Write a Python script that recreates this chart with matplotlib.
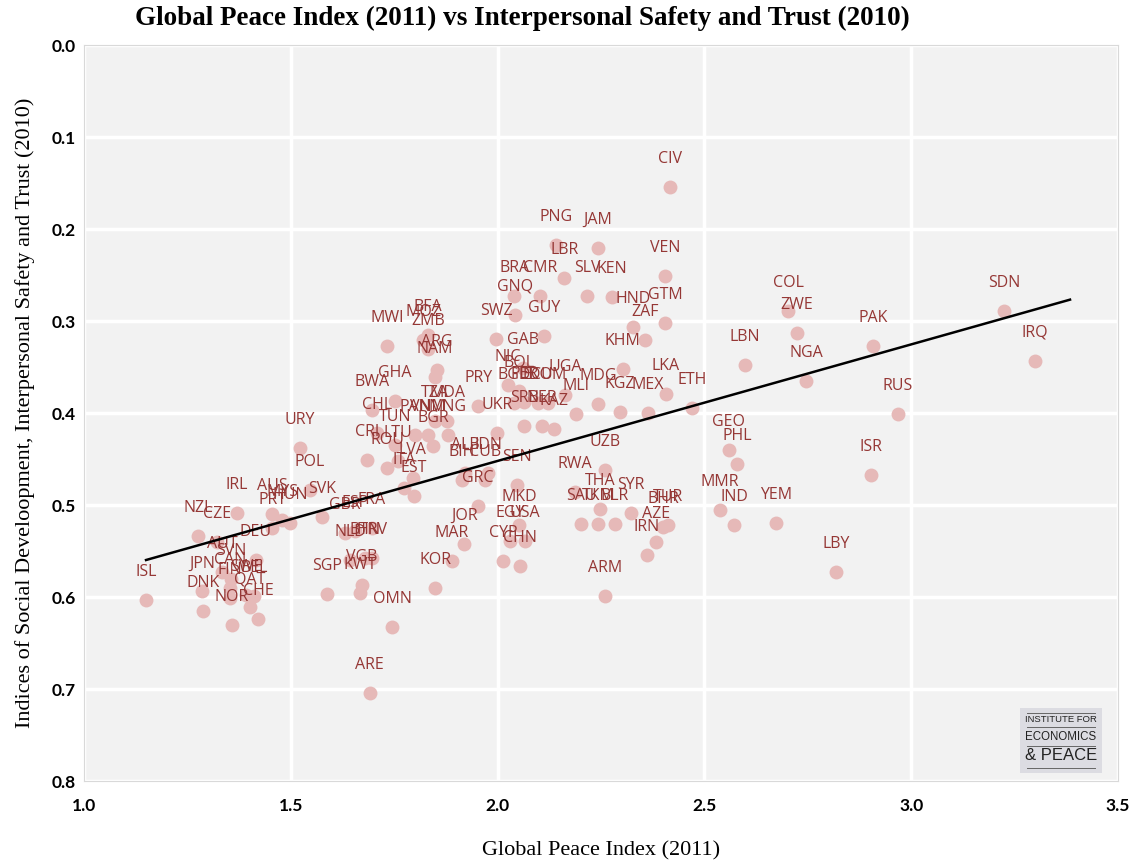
import numpy as np
import matplotlib
matplotlib.use("Agg")
import matplotlib.pyplot as plt
from matplotlib.patches import Rectangle

# ---- data ----
codes = [
    "ISL", "NZL", "CZE", "IRL", "AUS", "MYS", "PRT", "HUN", "DEU", "AUT",
    "SVN", "CAN", "JPN", "FIN", "SWE", "BEL", "QAT", "DNK", "CHE", "NOR",
    "URY", "POL", "SVK", "GBR", "ESP", "FRA", "NLD", "BTN", "HRV", "VGB",
    "KWT", "SGP", "OMN", "ARE", "KOR", "MAR", "JOR", "GRC", "CRI", "LTU",
    "ROU", "LVA", "ITA", "EST", "ALB", "IDN", "BIH", "CUB", "CHL", "TUN",
    "BGR", "PAN", "VNM", "MNG", "TZA", "MDA", "BWA", "GHA", "PRY", "UKR",
    "MWI", "BFA", "MOZ", "ZMB", "ARG", "NAM", "SWZ", "GUY", "GNQ", "BRA",
    "CMR", "PNG", "LBR", "JAM", "SLV", "KEN", "CIV", "VEN", "HND", "GTM",
    "ZAF", "GAB", "KHM", "NIC", "BOL", "BGD", "PER", "ECU", "DOM", "UGA",
    "MLI", "MDG", "KGZ", "MEX", "LKA", "ETH", "SRB", "NER", "KAZ", "SEN",
    "MKD", "EGY", "USA", "CYP", "CHN", "UZB", "RWA", "THA", "SYR", "SAU",
    "TKM", "BLR", "BHR", "TUR", "AZE", "IRN", "ARM", "GEO", "PHL", "MMR",
    "IND", "YEM", "LBY", "ISR", "RUS", "NGA", "LBN", "PAK", "COL", "ZWE",
    "SDN", "IRQ",
]

gpi_2011 = [
    1.150, 1.276, 1.322, 1.370, 1.455, 1.479, 1.455, 1.498, 1.416, 1.334,
    1.355, 1.353, 1.285, 1.353, 1.392, 1.411, 1.401, 1.288, 1.421, 1.358,
    1.522, 1.546, 1.575, 1.631, 1.655, 1.696, 1.643, 1.679, 1.696, 1.672,
    1.667, 1.588, 1.745, 1.691, 1.849, 1.890, 1.919, 1.953, 1.684, 1.759,
    1.733, 1.795, 1.774, 1.798, 1.921, 1.977, 1.914, 1.970, 1.708, 1.752,
    1.844, 1.800, 1.832, 1.880, 1.849, 1.878, 1.696, 1.752, 1.953, 1.999,
    1.733, 1.832, 1.820, 1.832, 1.853, 1.849, 1.996, 2.112, 2.042, 2.040,
    2.103, 2.141, 2.161, 2.243, 2.216, 2.277, 2.417, 2.405, 2.327, 2.405,
    2.356, 2.061, 2.303, 2.025, 2.052, 2.040, 2.064, 2.098, 2.122, 2.163,
    2.190, 2.243, 2.296, 2.364, 2.407, 2.470, 2.064, 2.107, 2.136, 2.047,
    2.052, 2.030, 2.066, 2.013, 2.054, 2.260, 2.187, 2.248, 2.323, 2.202,
    2.243, 2.284, 2.400, 2.412, 2.383, 2.361, 2.260, 2.559, 2.579, 2.538,
    2.572, 2.673, 2.818, 2.903, 2.968, 2.746, 2.598, 2.908, 2.702, 2.724,
    3.224, 3.299,
]

safety_2010 = [
    0.603, 0.534, 0.540, 0.509, 0.510, 0.516, 0.525, 0.520, 0.560, 0.573,
    0.580, 0.590, 0.594, 0.601, 0.598, 0.599, 0.611, 0.615, 0.624, 0.630,
    0.438, 0.484, 0.513, 0.530, 0.528, 0.525, 0.560, 0.558, 0.558, 0.587,
    0.596, 0.597, 0.633, 0.704, 0.590, 0.561, 0.542, 0.501, 0.451, 0.452,
    0.460, 0.471, 0.482, 0.490, 0.465, 0.465, 0.473, 0.473, 0.422, 0.435,
    0.436, 0.424, 0.424, 0.424, 0.409, 0.409, 0.397, 0.387, 0.392, 0.422,
    0.327, 0.315, 0.321, 0.330, 0.353, 0.361, 0.320, 0.316, 0.293, 0.273,
    0.273, 0.217, 0.253, 0.221, 0.273, 0.274, 0.154, 0.251, 0.307, 0.302,
    0.321, 0.351, 0.352, 0.370, 0.376, 0.389, 0.388, 0.389, 0.389, 0.380,
    0.401, 0.390, 0.399, 0.400, 0.379, 0.395, 0.414, 0.414, 0.417, 0.478,
    0.522, 0.539, 0.539, 0.561, 0.566, 0.462, 0.486, 0.504, 0.509, 0.521,
    0.521, 0.521, 0.524, 0.522, 0.540, 0.554, 0.599, 0.440, 0.455, 0.505,
    0.522, 0.520, 0.573, 0.467, 0.401, 0.365, 0.348, 0.327, 0.289, 0.313,
    0.289, 0.343,
]

x_ticks = [1.0, 1.5, 2.0, 2.5, 3.0, 3.5]
y_ticks = [0.0, 0.1, 0.2, 0.3, 0.4, 0.5, 0.6, 0.7, 0.8]

# ---- figure ----
fig = plt.figure(figsize=(11.38, 8.6), dpi=100)
ax = fig.add_axes([84 / 1138, 1 - 781 / 860, 1034 / 1138, 736 / 860])
ax.set_facecolor("#F2F2F2")

ax.set_xlim(1.0, 3.5)
ax.set_ylim(0.8, 0.0)
ax.set_xticks(x_ticks)
ax.set_yticks(y_ticks)
ax.grid(True, color="white", linewidth=2.5)
ax.set_axisbelow(True)
for s in ax.spines.values():
    s.set_color("#D9D9D9")
ax.tick_params(axis="x", length=0, pad=12)
ax.tick_params(axis="y", length=0, pad=6)
for lab in ax.get_xticklabels() + ax.get_yticklabels():
    lab.set_fontfamily("Lato")
    lab.set_fontweight("bold")
    lab.set_fontsize(12.5)

x = np.array(gpi_2011)
y = np.array(safety_2010)
ax.scatter(x, y, s=100, color="#E6B9B8", linewidths=0, zorder=3)

for c, xi, yi in zip(codes, x, y):
    ax.annotate(c, (xi, yi), xytext=(0, 28), textcoords="offset pixels",
                ha="center", va="center", fontsize=11.5, family="Open Sans",
                color="#953735", zorder=4)

# linear trend line
b, a = np.polyfit(x, y, 1)
xt = np.array([x.min(), x.max() + 0.085])
ax.plot(xt, a + b * xt, color="black", linewidth=1.8, zorder=5)

fig.text(0.459, 0.979, "Global Peace Index (2011) vs Interpersonal Safety and Trust (2010)",
         ha="center", va="center", fontsize=19.5, fontweight="bold",
         family="Liberation Serif")
ax.set_xlabel("Global Peace Index (2011)", family="Liberation Serif",
              fontsize=16, labelpad=20)
ax.set_ylabel("Indices of Social Develoopment, Interpersonal Safety and Trust (2010)",
              family="Liberation Serif", fontsize=16, labelpad=12)

# logo box
lx0, ly0, lw, lh = 1020 / 1138, 1 - 773 / 860, 82 / 1138, 65 / 860
fig.patches.append(Rectangle((lx0, ly0), lw, lh, transform=fig.transFigure,
                             facecolor="#DCDCE2", edgecolor="none", zorder=1))
fig.text(lx0 + lw / 2, 1 - 720 / 860, "INSTITUTE FOR", ha="center", va="center",
         fontsize=6.8, family="Liberation Sans", color="#222222")
fig.text(lx0 + lw / 2, 1 - 737 / 860, "ECONOMICS", ha="center", va="center",
         fontsize=8.3, family="Liberation Sans", color="#222222")
fig.text(lx0 + lw / 2, 1 - 756 / 860, "& PEACE", ha="center", va="center",
         fontsize=12, family="Liberation Sans", color="#222222")
for yy in [713, 727, 746, 768]:
    fig.lines.append(plt.Line2D([lx0 + 0.006, lx0 + lw - 0.006], [1 - yy / 860] * 2,
                                transform=fig.transFigure, color="#666666",
                                linewidth=0.7))

fig.savefig("out.png", dpi=100)
